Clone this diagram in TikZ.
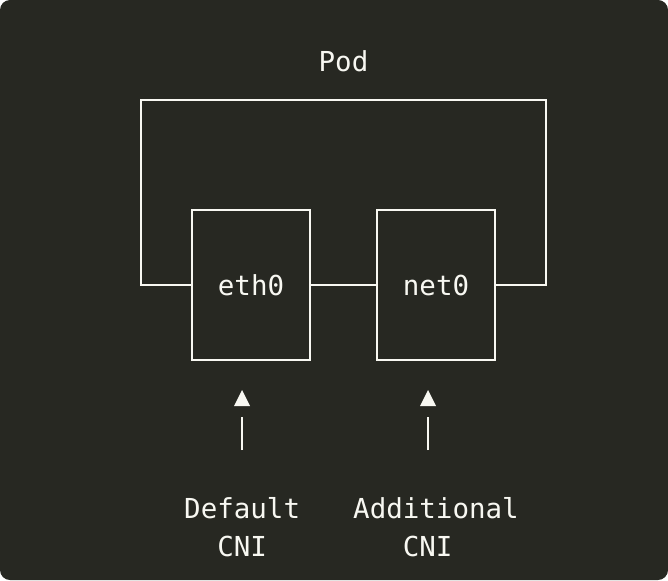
\documentclass[tikz,border=0pt]{standalone}
\usepackage{fontspec}
\setmonofont{DejaVu Sans Mono}
\begin{document}
\begin{tikzpicture}[x=1pt,y=-1pt,
  fg/.style={draw=fgc,line width=2.2pt},
  lbl/.style={text=fgc,font=\ttfamily\fontsize{27.5}{38}\selectfont,inner sep=0pt},
  ifbox/.style={fg,lbl,minimum width=118pt,minimum height=150pt}]
\definecolor{bgc}{HTML}{272822}
\definecolor{fgc}{HTML}{F8F8F2}
\useasboundingbox (0,0) rectangle (668,580);
\fill[bgc,rounded corners=10pt] (0,0) rectangle (668,580);
\node[lbl,anchor=base] (pod) at (343.5,72) {Pod};
\node[ifbox] (eth0) at (251,285) {eth0};
\node[ifbox] (net0) at (436,285) {net0};
\coordinate (podtl) at (141,100);
\coordinate (podtr) at (546,100);
\draw[fg] (eth0.west) -| (podtl) -- (podtr) |- (net0.east);
\draw[fg] (eth0.east) -- (net0.west);
\node[lbl,anchor=base west,align=left] (dcni) at (184,556) {Default\\\phantom{De}CNI};
\node[lbl,anchor=base west,align=left] (acni) at (353,556) {Additional\\\phantom{Add}CNI};
\coordinate (a1b) at (242,450);
\coordinate (a1t) at (242,417);
\coordinate (a2b) at (428,450);
\coordinate (a2t) at (428,417);
\draw[fg] (a1b) -- (a1t);
\draw[fg] (a2b) -- (a2t);
\fill[fgc] ([shift={(-8,-11)}]a1t) -- ([shift={(8,-11)}]a1t) -- ([shift={(0,-27)}]a1t) -- cycle;
\fill[fgc] ([shift={(-8,-11)}]a2t) -- ([shift={(8,-11)}]a2t) -- ([shift={(0,-27)}]a2t) -- cycle;
\end{tikzpicture}
\end{document}
